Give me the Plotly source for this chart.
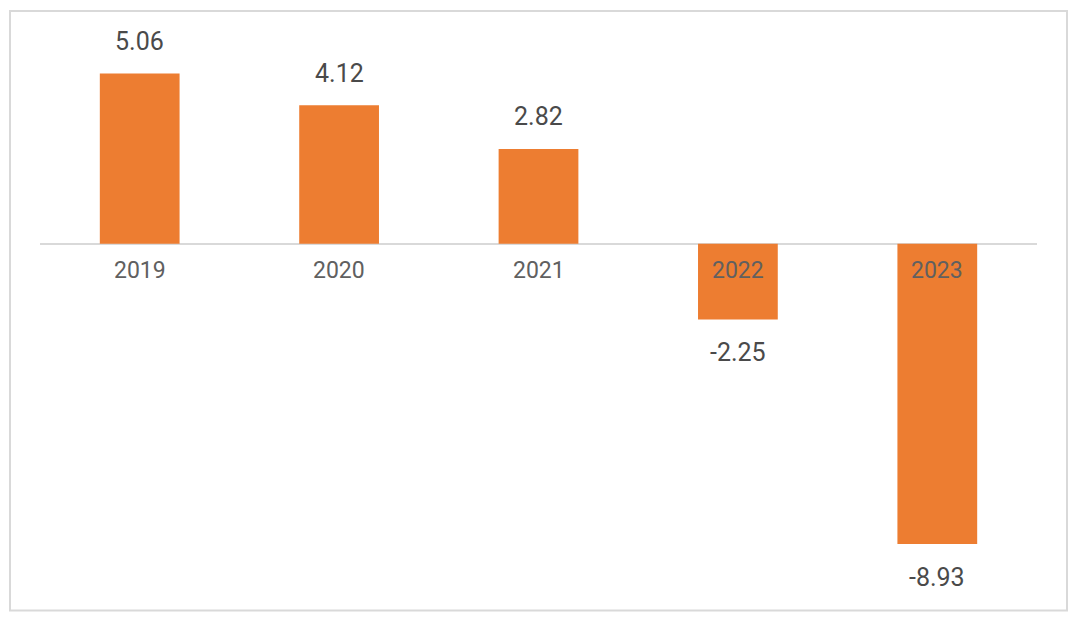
import plotly.graph_objects as go

years = ["2019", "2020", "2021", "2022", "2023"]
values = [5.06, 4.12, 2.82, -2.25, -8.93]
value_labels = ["5.06", "4.12", "2.82", "-2.25", "-8.93"]

BAR = "#ED7D31"
fig = go.Figure(go.Bar(x=years, y=values, marker_color=BAR, width=0.4,
                       marker_line_width=0, hoverinfo="skip"))

ann = []
for i, (yr, v, lab) in enumerate(zip(years, values, value_labels)):
    ann.append(dict(x=i, y=v, xref="x", yref="y", text=lab, showarrow=False,
                    yanchor="middle", yshift=32 if v > 0 else -33,
                    font=dict(family="Roboto", size=25, color="#4a4a4a")))
    ann.append(dict(x=i, y=0, xref="x", yref="y", text=yr, showarrow=False,
                    yanchor="middle", yshift=-27,
                    font=dict(family="Roboto", size=23, color="#606060")))

fig.update_layout(
    width=1072, height=614,
    margin=dict(l=32, r=43, t=34, b=41.5),
    paper_bgcolor="white", plot_bgcolor="white",
    showlegend=False,
    xaxis=dict(type="category", showticklabels=False, showgrid=False, showline=False,
               zeroline=False, range=[-0.5, 4.5]),
    yaxis=dict(range=[-10, 6], showticklabels=False, showgrid=False, showline=False,
               zeroline=True, zerolinecolor="#D9D9D9", zerolinewidth=1.5),
    annotations=ann,
    shapes=[dict(type="rect", xref="paper", yref="paper",
                 x0=-0.0301, x1=1.0301, y0=-0.0566, y1=1.0576,
                 line=dict(color="#D9D9D9", width=2), fillcolor="rgba(0,0,0,0)",
                 layer="below")],
)

fig.write_html("out.html")
